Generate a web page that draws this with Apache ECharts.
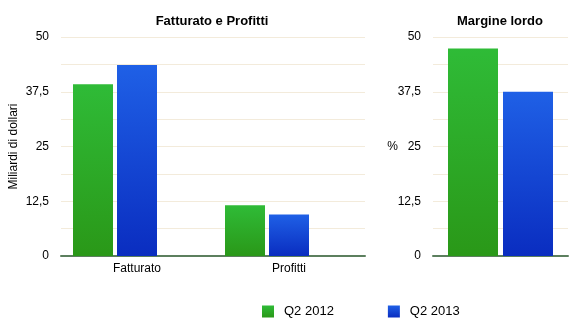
<!DOCTYPE html>
<html><head><meta charset="utf-8">
<script src="https://cdn.jsdelivr.net/npm/echarts@6/dist/echarts.min.js"></script>
<style>html,body{margin:0;padding:0;background:#fff}#c{width:581px;height:328px}</style>
</head><body><div id="c"></div>
<script>
const categories = ['Fatturato', 'Profitti'];
const q2012 = [39.2, 11.6];
const q2013 = [43.6, 9.5];
const marginCategories = ['Margine lordo'];
const margin2012 = [47.4];
const margin2013 = [37.5];
const seriesNames = ['Q2 2012', 'Q2 2013'];

const font = 'Liberation Sans, Arial, Helvetica, sans-serif';
const green = new echarts.graphic.LinearGradient(0,0,0,1,[{offset:0,color:'#2fbb37'},{offset:1,color:'#2a9818'}]);
const blue = new echarts.graphic.LinearGradient(0,0,0,1,[{offset:0,color:'#1f60e6'},{offset:1,color:'#0a2dc0'}]);
const fmt = v => (v % 12.5 === 0) ? String(v).replace('.', ',') : '';

function yAx(gi, name, nameGap, rot) {
  return {
    type:'value', gridIndex: gi, min:0, max:50, interval:6.25,
    name: name, nameLocation:'middle', nameGap: nameGap, nameRotate: rot,
    nameMoveOverlap:false,
    nameTextStyle:{color:'#000', fontSize:12, fontFamily:font},
    axisLine:{show:false}, axisTick:{show:false},
    axisLabel:{formatter: fmt, color:'#000', fontSize:12, fontFamily:font, margin:12},
    splitLine:{lineStyle:{color:'#f3ebdb', width:1}}
  };
}
function xAx(gi, data, show) {
  return {
    type:'category', gridIndex: gi, data: data,
    axisLine:{lineStyle:{color:'#5c7f5e', width:2}}, axisTick:{show:false},
    axisLabel:{show: show, color:'#000', fontSize:12, fontFamily:font, margin:7}
  };
}

const chart = echarts.init(document.getElementById('c'));
chart.setOption({
  animation:false,
  title:[
    {text:'Fatturato e Profitti', left:207, top:10, textAlign:'center', textStyle:{fontSize:13, fontWeight:'bold', color:'#000', fontFamily:font}},
    {text:'Margine lordo', left:495, top:10, textAlign:'center', textStyle:{fontSize:13, fontWeight:'bold', color:'#000', fontFamily:font}}
  ],
  legend:{data: seriesNames, top:300, left:257, itemWidth:12, itemHeight:12, itemGap:54,
    icon:'rect',
    textStyle:{fontSize:13, color:'#000', fontFamily:font, padding:[0,0,0,5]}},
  grid:[
    {left:61, right:216, top:37, bottom:72, outerBoundsMode:'none', containLabel:false},
    {left:433, right:13, top:37, bottom:72, outerBoundsMode:'none', containLabel:false}
  ],
  xAxis:[xAx(0, categories, true), xAx(1, marginCategories, false)],
  yAxis:[yAx(0, 'Miliardi di dollari', 41, 90), yAx(1, '%', 35, 0)],
  series:[
    {name:seriesNames[0], type:'bar', xAxisIndex:0, yAxisIndex:0, data:q2012, barWidth:40, barGap:'10%', itemStyle:{color:green}},
    {name:seriesNames[1], type:'bar', xAxisIndex:0, yAxisIndex:0, data:q2013, barWidth:40, barGap:'10%', itemStyle:{color:blue}},
    {name:'_pad', type:'bar', xAxisIndex:0, yAxisIndex:0, data:[null, null], barWidth:40, barGap:'10%'},
    {name:seriesNames[0], type:'bar', xAxisIndex:1, yAxisIndex:1, data:margin2012, barWidth:50, barGap:'10%', itemStyle:{color:green}},
    {name:seriesNames[1], type:'bar', xAxisIndex:1, yAxisIndex:1, data:margin2013, barWidth:50, barGap:'10%', itemStyle:{color:blue}}
  ]
});
</script></body></html>
